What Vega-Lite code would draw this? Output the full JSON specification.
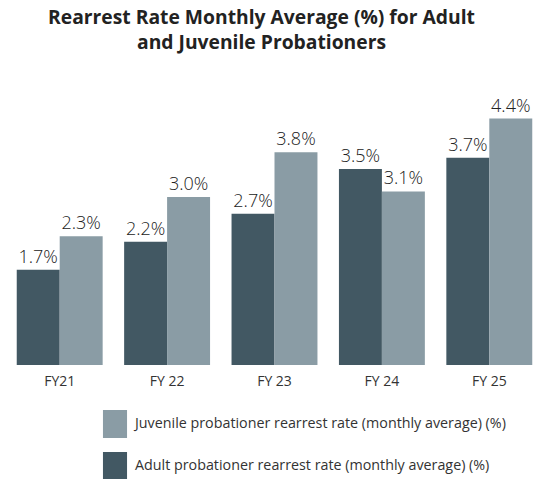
{
  "$schema": "https://vega.github.io/schema/vega-lite/v6.json",
  "autosize": {"type": "none"},
  "padding": {"left": 6, "top": 85, "right": 0, "bottom": 114},
  "width": 537,
  "height": 280,
  "background": "white",
  "title": {
    "text": ["Rearrest Rate Monthly Average (%) for Adult", "and Juvenile Probationers"],
    "font": "Open Sans",
    "fontSize": 19.3,
    "fontWeight": "bold",
    "color": "#222222",
    "anchor": "middle",
    "dx": -13,
    "offset": 32,
    "lineHeight": 25
  },
  "data": {
    "values": [
      {"fy": "FY21", "series": "Adult probationer rearrest rate (monthly average) (%)", "value": 1.7},
      {"fy": "FY21", "series": "Juvenile probationer rearrest rate (monthly average) (%)", "value": 2.3},
      {"fy": "FY 22", "series": "Adult probationer rearrest rate (monthly average) (%)", "value": 2.2},
      {"fy": "FY 22", "series": "Juvenile probationer rearrest rate (monthly average) (%)", "value": 3.0},
      {"fy": "FY 23", "series": "Adult probationer rearrest rate (monthly average) (%)", "value": 2.7},
      {"fy": "FY 23", "series": "Juvenile probationer rearrest rate (monthly average) (%)", "value": 3.8},
      {"fy": "FY 24", "series": "Adult probationer rearrest rate (monthly average) (%)", "value": 3.5},
      {"fy": "FY 24", "series": "Juvenile probationer rearrest rate (monthly average) (%)", "value": 3.1},
      {"fy": "FY 25", "series": "Adult probationer rearrest rate (monthly average) (%)", "value": 3.7},
      {"fy": "FY 25", "series": "Juvenile probationer rearrest rate (monthly average) (%)", "value": 4.4}
    ]
  },
  "encoding": {
    "x": {
      "field": "fy", "type": "nominal", "sort": null,
      "scale": {"paddingInner": 0.2, "paddingOuter": 0.1},
      "axis": {"title": null, "domain": false, "ticks": false, "labelAngle": 0, "labelFont": "Open Sans", "labelFontSize": 14, "labelFontWeight": "normal", "labelColor": "#333333", "labelPadding": 9}
    },
    "xOffset": {
      "field": "series", "type": "nominal",
      "scale": {"domain": ["Adult probationer rearrest rate (monthly average) (%)", "Juvenile probationer rearrest rate (monthly average) (%)"], "paddingInner": 0, "paddingOuter": 0}
    },
    "y": {
      "field": "value", "type": "quantitative",
      "scale": {"domain": [0, 5]},
      "axis": null
    }
  },
  "layer": [
    {
      "mark": {"type": "bar"},
      "encoding": {
        "color": {
          "field": "series", "type": "nominal",
          "scale": {"domain": ["Juvenile probationer rearrest rate (monthly average) (%)", "Adult probationer rearrest rate (monthly average) (%)"], "range": ["#8a9ca5", "#425863"]},
          "legend": {
            "title": null, "orient": "none", "legendX": 95, "legendY": 325,
            "padding": 0,
            "symbolType": "M-0.86,-1V1H0.86V-1Z",
            "symbolSize": 784,
            "symbolOpacity": 1,
            "symbolStrokeWidth": 0,
            "labelFont": "Open Sans", "labelFontSize": 14.3, "labelColor": "#333333",
            "labelOffset": 6, "rowPadding": 14, "labelLimit": 500
          }
        }
      }
    },
    {
      "transform": [{"calculate": "format(datum.value, '.1f') + '%'", "as": "label"}],
      "mark": {"type": "text", "baseline": "bottom", "dy": -3, "font": "Open Sans", "fontSize": 18, "fontWeight": 300, "color": "#222222"},
      "encoding": {
        "text": {"field": "label", "type": "nominal"}
      }
    }
  ],
  "config": {"view": {"stroke": null}}
}
